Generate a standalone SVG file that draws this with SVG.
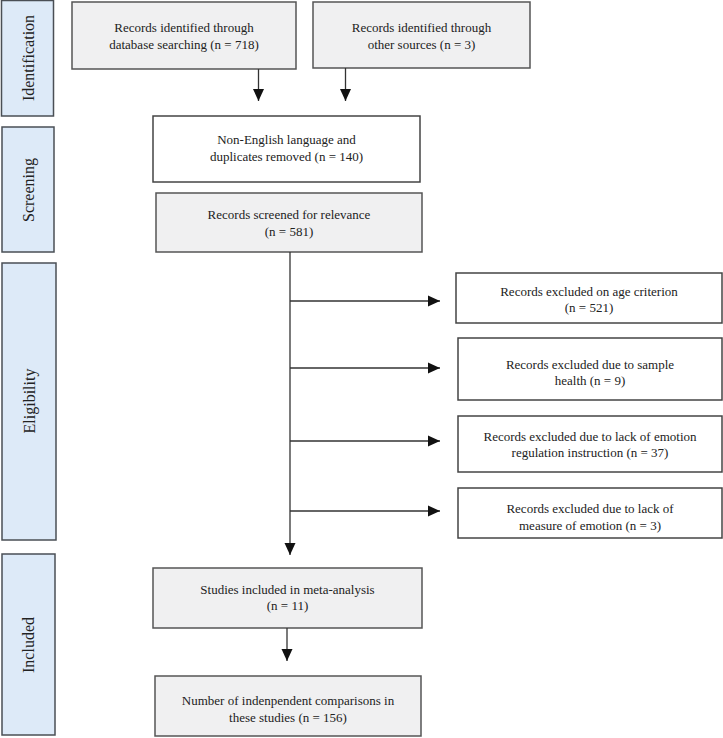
<svg xmlns="http://www.w3.org/2000/svg" width="723" height="738" viewBox="0 0 723 738">
<style>
  .gray { fill: #f0f0f1; stroke: #555; stroke-width: 1.5; }
  .white { fill: #ffffff; stroke: #444; stroke-width: 1.5; }
  .panel { fill: #ddeaf8; stroke: #4a4f55; stroke-width: 1.5; }
  text { font-family: "Liberation Serif", "Times New Roman", serif; fill: #222; }
  .t { font-size: 13px; text-anchor: middle; }
  .p { font-size: 16px; text-anchor: middle; dominant-baseline: central; }
  .conn { stroke: #333; stroke-width: 1.3; fill: none; marker-end: url(#ah); }
</style>
<defs>
  <marker id="ah" viewBox="0 0 12 12" refX="12" refY="6" markerWidth="12" markerHeight="12" markerUnits="userSpaceOnUse" orient="auto">
    <path d="M0,0.5 L12,6 L0,11.5 z" fill="#111"/>
  </marker>
</defs>
<rect width="723" height="738" fill="#ffffff"/>

<g id="panel-identification">
  <rect class="panel" x="1.5" y="0.5" width="52" height="115.5"/>
  <text class="p" transform="translate(28,58) rotate(-90)">Identification</text>
</g>
<g id="panel-screening">
  <rect class="panel" x="2" y="127" width="52" height="125"/>
  <text class="p" transform="translate(28,190) rotate(-90)">Screening</text>
</g>
<g id="panel-eligibility">
  <rect class="panel" x="2" y="263" width="54" height="277"/>
  <text class="p" transform="translate(29,401) rotate(-90)">Eligibility</text>
</g>
<g id="panel-included">
  <rect class="panel" x="2" y="554" width="53" height="181"/>
  <text class="p" transform="translate(28,645) rotate(-90)">Included</text>
</g>

<g id="box-database">
  <rect class="gray" x="72" y="2" width="224" height="67"/>
  <text class="t" x="184" y="32">Records identified through</text>
  <text class="t" x="184" y="49">database searching (n = 718)</text>
</g>
<g id="box-other">
  <rect class="gray" x="313" y="2" width="217" height="66"/>
  <text class="t" x="421.5" y="32">Records identified through</text>
  <text class="t" x="421.5" y="49">other sources (n = 3)</text>
</g>
<g id="box-removed">
  <rect class="white" x="153" y="116" width="267" height="66"/>
  <text class="t" x="286.5" y="144">Non-English language and</text>
  <text class="t" x="286.5" y="161">duplicates removed (n = 140)</text>
</g>
<g id="box-screened">
  <rect class="gray" x="156" y="193" width="266" height="59"/>
  <text class="t" x="289" y="219">Records screened for relevance</text>
  <text class="t" x="289" y="236">(n = 581)</text>
</g>
<g id="box-excl-age">
  <rect class="white" x="456" y="273" width="266" height="50"/>
  <text class="t" x="589" y="296">Records excluded on age criterion</text>
  <text class="t" x="589" y="312">(n = 521)</text>
</g>
<g id="box-excl-health">
  <rect class="white" x="458" y="338" width="264" height="62"/>
  <text class="t" x="590" y="369">Records excluded due to sample</text>
  <text class="t" x="590" y="385">health (n = 9)</text>
</g>
<g id="box-excl-instruction">
  <rect class="white" x="458" y="416" width="264" height="56"/>
  <text class="t" x="590" y="441">Records excluded due to lack of emotion</text>
  <text class="t" x="590" y="457">regulation instruction (n = 37)</text>
</g>
<g id="box-excl-measure">
  <rect class="white" x="458" y="488" width="264" height="50"/>
  <text class="t" x="590" y="513">Records excluded due to lack of</text>
  <text class="t" x="590" y="530">measure of emotion (n = 3)</text>
</g>
<g id="box-included">
  <rect class="gray" x="153" y="568" width="269" height="60"/>
  <text class="t" x="287.5" y="594">Studies included in meta-analysis</text>
  <text class="t" x="287.5" y="610">(n = 11)</text>
</g>
<g id="box-comparisons">
  <rect class="gray" x="155" y="676" width="266" height="60"/>
  <text class="t" x="288" y="705">Number of indenpendent comparisons in</text>
  <text class="t" x="288" y="722">these studies (n = 156)</text>
</g>

<g id="connectors">
  <line class="conn" x1="258.5" y1="69" x2="258.5" y2="101"/>
  <line class="conn" x1="345.5" y1="68" x2="345.5" y2="101"/>
  <line class="conn" x1="290" y1="252" x2="290" y2="555"/>
  <line class="conn" x1="290" y1="301" x2="440" y2="301"/>
  <line class="conn" x1="290" y1="368" x2="440" y2="368"/>
  <line class="conn" x1="290" y1="441" x2="440" y2="441"/>
  <line class="conn" x1="290" y1="511" x2="440" y2="511"/>
  <line class="conn" x1="287" y1="628" x2="287" y2="661"/>
</g>
</svg>
